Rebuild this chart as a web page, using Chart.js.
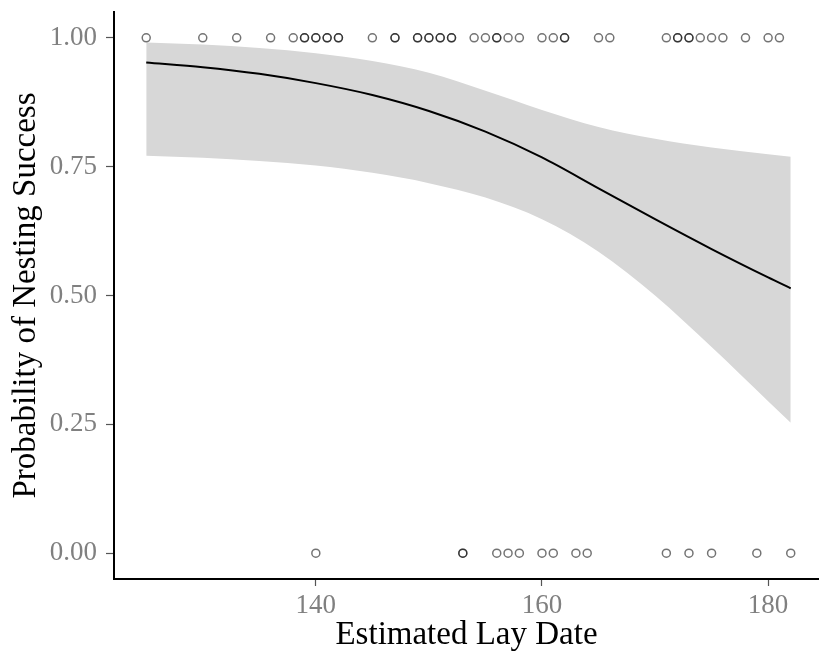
<!DOCTYPE html>
<html>
<head>
<meta charset="utf-8">
<script src="https://cdn.jsdelivr.net/npm/chart.js@4.4.1/dist/chart.umd.min.js"></script>
<style>
  html, body { margin: 0; padding: 0; background: #fff; }
  #wrap { width: 819px; height: 657px; }
</style>
</head>
<body>
<div id="wrap"><canvas id="nestChart" width="819" height="657"></canvas></div>
<script>
// fitted curve and confidence band
const fitDates = [125, 130, 135, 140, 145, 150, 155, 160, 165, 170, 175, 180, 182];
const fitProb  = [0.952, 0.943, 0.930, 0.912, 0.889, 0.858, 0.818, 0.768, 0.708, 0.648, 0.590, 0.535, 0.514];
const ciUpper  = [0.991, 0.987, 0.980, 0.970, 0.955, 0.932, 0.897, 0.860, 0.827, 0.804, 0.787, 0.774, 0.769];
const ciLower  = [0.771, 0.767, 0.761, 0.752, 0.738, 0.718, 0.690, 0.648, 0.585, 0.500, 0.400, 0.295, 0.253];

// observed nests (lay date), successful = 1, failed = 0
const successDates = [125, 130, 133, 136, 138, 139, 139, 140, 140, 141, 141, 142, 142, 145, 147, 147,
  149, 149, 150, 150, 151, 151, 152, 152, 154, 155, 156, 156, 157, 158, 160, 161, 162, 162,
  165, 166, 171, 172, 172, 173, 173, 174, 175, 176, 178, 180, 181];
const failDates = [140, 153, 153, 156, 157, 158, 160, 161, 163, 164, 171, 173, 175, 179, 182];

const xTicks = [140, 160, 180];
const yTicks = [0, 0.25, 0.5, 0.75, 1];

const serif = "'Liberation Serif', 'Times New Roman', serif";

function pairs(xs, ys) {
    return xs.map((x, i) => ({ x: x, y: ys[i] }));
}

const points = successDates.map(d => ({ x: d, y: 1 }))
    .concat(failDates.map(d => ({ x: d, y: 0 })));

const ctx = document.getElementById("nestChart").getContext("2d");
const nestChart = new Chart(ctx, {
    type: "line",
    data: {
        datasets: [
            {
                label: "nests",
                type: "scatter",
                data: points,
                pointRadius: 4,
                pointHoverRadius: 4,
                pointBorderWidth: 1.5,
                pointBackgroundColor: "rgba(0,0,0,0)",
                pointBorderColor: "rgba(0,0,0,0.55)",
                order: 0,
            },
            {
                label: "fit",
                data: pairs(fitDates, fitProb),
                borderColor: "#000",
                borderWidth: 2,
                pointRadius: 0,
                cubicInterpolationMode: "monotone",
                fill: false,
                order: 1,
            },
            {
                label: "upper",
                data: pairs(fitDates, ciUpper),
                borderWidth: 0,
                borderColor: "rgba(0,0,0,0)",
                backgroundColor: "#d7d7d7",
                pointRadius: 0,
                cubicInterpolationMode: "monotone",
                fill: "+1",
                order: 2,
            },
            {
                label: "lower",
                data: pairs(fitDates, ciLower),
                borderWidth: 0,
                borderColor: "rgba(0,0,0,0)",
                pointRadius: 0,
                cubicInterpolationMode: "monotone",
                fill: false,
                order: 3,
            },
        ],
    },
    options: {
        responsive: false,
        animation: false,
        layout: { autoPadding: false, padding: { top: 12, right: 0, left: 0, bottom: 0 } },
        plugins: {
            legend: { display: false },
            tooltip: { enabled: false },
        },
        scales: {
            x: {
                type: "linear",
                min: 122.15,
                max: 184.5,
                afterBuildTicks: (scale) => {
                    scale.ticks = xTicks.map(v => ({ value: v }));
                },
                afterFit: (scale) => {
                    scale.height = 78;
                    scale.paddingLeft = 0;
                    scale.paddingRight = 0;
                },
                grid: {
                    drawOnChartArea: false,
                    drawTicks: true,
                    tickLength: 7,
                    tickWidth: 1.2,
                    tickColor: "#555",
                },
                border: { display: true, color: "#000", width: 2 },
                ticks: {
                    color: "#808080",
                    padding: 4,
                    font: { family: serif, size: 27 },
                    maxRotation: 0,
                },
                title: {
                    display: true,
                    text: "Estimated Lay Date",
                    color: "#000",
                    font: { family: serif, size: 33 },
                    padding: { top: 0, bottom: 2 },
                },
            },
            y: {
                type: "linear",
                min: -0.05,
                max: 1.05,
                afterBuildTicks: (scale) => {
                    scale.ticks = yTicks.map(v => ({ value: v }));
                },
                afterFit: (scale) => {
                    scale.width = 114;
                    scale.paddingTop = 0;
                    scale.paddingBottom = 0;
                },
                grid: {
                    drawOnChartArea: false,
                    drawTicks: true,
                    tickLength: 8,
                    tickWidth: 1.2,
                    tickColor: "#555",
                },
                border: { display: true, color: "#000", width: 2 },
                ticks: {
                    color: "#808080",
                    padding: 9,
                    font: { family: serif, size: 27 },
                    callback: (v) => Number(v).toFixed(2),
                },
                title: {
                    display: true,
                    text: "Probability of Nesting Success",
                    color: "#000",
                    font: { family: serif, size: 33 },
                    padding: { top: 7, bottom: 0 },
                },
            },
        },
    },
});
</script>
</body>
</html>
